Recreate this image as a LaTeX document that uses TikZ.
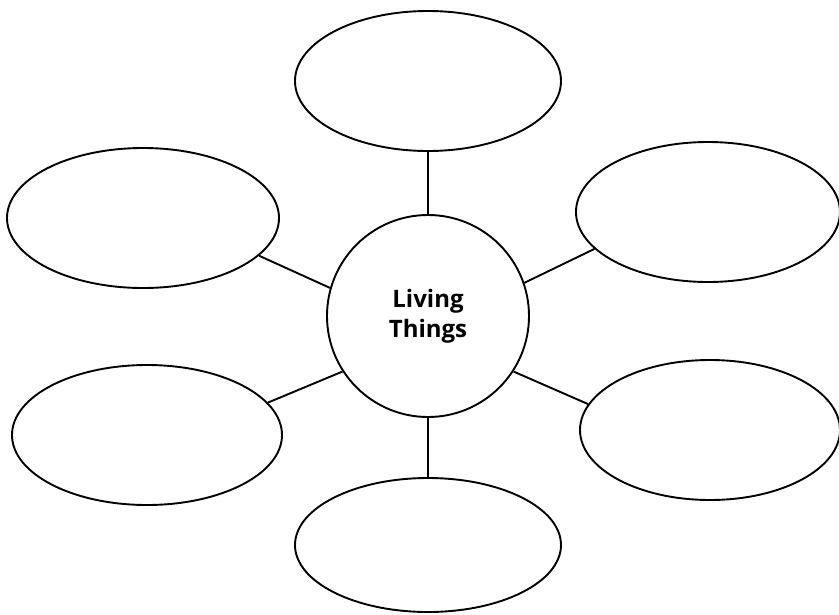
\documentclass[tikz,border=0pt]{standalone}
\usepackage{fontspec}
\setsansfont{Open Sans}
\usepackage{tikz}
\usetikzlibrary{shapes.geometric}

\begin{document}
\begin{tikzpicture}[x=1pt,y=-1pt,line width=1.9pt,
  bubble/.style={draw,ellipse,inner sep=0pt},
  hub/.style={draw,circle,inner sep=0pt,minimum size=202pt,align=center,
    font=\sffamily\bfseries\fontsize{24}{30}\selectfont}]
\useasboundingbox (0,0) rectangle (839,614);

% Centre
\node[hub] (living) at (428,316) {Living\\Things};

% Outer bubbles
\node[bubble,minimum width=266pt,minimum height=140pt] (top) at (428,81) {};
\node[bubble,minimum width=272pt,minimum height=140pt] (upleft) at (143,218) {};
\node[bubble,minimum width=264pt,minimum height=140pt] (upright) at (708,212) {};
\node[bubble,minimum width=270pt,minimum height=140pt] (lowleft) at (147,435) {};
\node[bubble,minimum width=260pt,minimum height=140pt] (lowright) at (710,430) {};
\node[bubble,minimum width=266pt,minimum height=134pt] (bottom) at (428,545) {};

% Spokes
\draw (living.90) -- (top.-90);
\draw (living.164) -- (upleft.-18);
\draw (living.19) -- (upright.198);
\draw (living.213) -- (lowleft.15);
\draw (living.-33) -- (lowright.168);
\draw (living.-90) -- (bottom.90);
\end{tikzpicture}
\end{document}
